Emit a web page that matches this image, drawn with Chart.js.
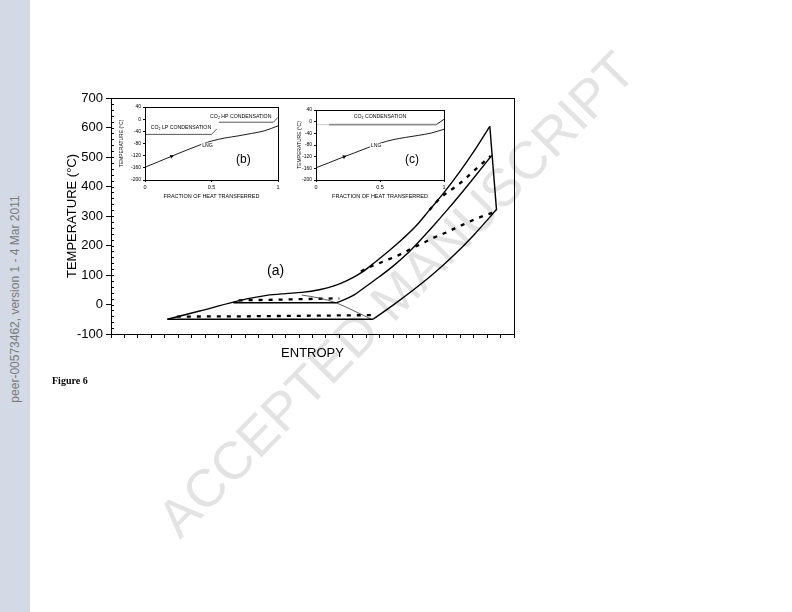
<!DOCTYPE html>
<html>
<head>
<meta charset="utf-8">
<script src="https://cdn.jsdelivr.net/npm/chart.js@4"></script>
<style>
  body { margin: 0; width: 792px; height: 612px; position: relative; overflow: hidden; background: #fff;
         font-family: "Liberation Sans", Arial, sans-serif; }
  canvas { position: absolute; }
  #side { position: absolute; left: 0; top: 0; width: 30px; height: 612px; background: #d3dae5; }
  #sideText { position: absolute; left: 15px; top: 299px; transform: translate(-50%, -50%) rotate(-90deg);
              white-space: nowrap; font-size: 12px; color: #7b7b7b; }
  #fig { position: absolute; left: 52px; top: 375px; font-family: "Liberation Serif", "Times New Roman", serif;
         font-weight: bold; font-size: 10px; }
  #mark { position: absolute; left: 396px; top: 294px; transform: translate(-50%, -50%) rotate(-45.5deg);
          white-space: nowrap; font-size: 53px; color: #e3e3e3; pointer-events: none; }
</style>
</head>
<body>
<div id="side"><div id="sideText">peer-00573462, version 1 - 4 Mar 2011</div></div>
<div id="mark">ACCEPTED MANUSCRIPT</div>
<canvas id="mainChart" width="792" height="612" style="left:0;top:0"></canvas>
<canvas id="insetB" width="180" height="107" style="left:110px;top:98px"></canvas>
<canvas id="insetC" width="175" height="107" style="left:285px;top:98px"></canvas>
<div id="fig">Figure 6</div>

<script>
// main T-s diagram, entropy in arbitrary units (0..30)
const topS = [4.2, 6.6, 9.1, 10.2, 11.6, 13, 14.2, 15.5, 16.6, 17.6, 18.7, 19.7, 20.7, 21.7, 22.7, 23.7, 24.8, 25.9, 27, 28.2];
const topT = [-50, -22, 8, 20, 31, 37, 41, 50, 63, 82, 110, 145, 182, 222, 266, 320, 380, 446, 518, 604];
const rightS = [28.2, 28.7];
const rightT = [604, 320];
const bottomS = [19.5, 21, 22.5, 24, 25.5, 27, 28.7];
const bottomT = [-50, -2, 49, 104, 166, 235, 322];
const baseS = [4.2, 19.5];
const baseT = [-50, -50];
const innerS = [9.1, 16.8];
const innerT = [6, 6];
const middleS = [16.8, 18, 19, 20, 21, 22, 23, 24, 25, 26, 27, 28.35];
const middleT = [6, 30, 62, 95, 130, 170, 217, 267, 319, 373, 429, 506];
const thinS = [14.2, 15.5, 16.8, 18.1, 19.4];
const thinT = [32, 22, 5, -22, -50];
const dashLowS = [4.9, 10, 15, 19.4];
const dashLowT = [-41, -40, -38, -36];
const dashMidS = [9.5, 13, 17];
const dashMidT = [14, 17, 21];
const dashBS = [18.6, 19.3, 19.9, 20.5, 21.1, 21.8, 22.6, 23.4, 24.1, 24.9, 25.6, 26.4, 27.2, 27.9, 28.6];
const dashBT = [112, 128, 139, 150, 161, 176, 195, 212, 228, 243, 258, 275, 291, 303, 314];
const dashCS = [23.7, 24.4, 25.1, 25.8, 26.4, 27, 27.7, 28.25];
const dashCT = [320, 356, 382, 404, 427, 453, 481, 503];

// inset (b)
const lngFracB = [0, 0.1, 0.2, 0.3, 0.4, 0.5, 0.6, 0.7, 0.8, 0.9, 1];
const lngTB = [-158, -140, -122, -104, -87, -72, -62, -55, -47, -38, -22];
const lpFrac = [0, 0.5, 0.54];
const lpT = [-50, -50, -32];
const hpFrac = [0.555, 0.965, 1];
const hpT = [-10, -10, 6];
const arrowB = [0.2, -122];

// inset (c)
const lngFracC = [0, 0.1, 0.22, 0.3, 0.4, 0.5, 0.6, 0.7, 0.8, 0.9, 1];
const lngTC = [-158, -141, -120, -107, -90, -74, -62, -54, -47, -39, -26];
const co2PaleFrac = [0, 0.1];
const co2PaleT = [-10, -10];
const co2Frac = [0.1, 0.94];
const co2T = [-10, -10];
const co2RiseFrac = [0.94, 1];
const co2RiseT = [-10, 8];
const arrowC = [0.22, -120];

const FONT = '"Liberation Sans", Arial, sans-serif';

function pts(xs, ys) {
  return xs.map((x, i) => ({ x: x, y: ys[i] }));
}

function line(xs, ys, extra) {
  return Object.assign({
    data: pts(xs, ys),
    borderColor: '#000',
    borderWidth: 1.4,
    pointRadius: 0,
    fill: false,
    tension: 0
  }, extra);
}

const smooth = { cubicInterpolationMode: 'monotone' };
const dashed = { borderDash: [4, 6], borderWidth: 2.3, borderCapStyle: 'butt' };

// box round the plot area + free text placed in data units
const framePlugin = {
  id: 'frame',
  afterDatasetsDraw(chart) {
    const a = chart.chartArea;
    const ctx = chart.ctx;
    ctx.save();
    ctx.strokeStyle = '#000';
    ctx.lineWidth = 1;
    ctx.strokeRect(Math.round(a.left) + 0.5, Math.round(a.top) + 0.5,
                   Math.round(a.right - a.left), Math.round(a.bottom - a.top));
    const notes = chart.options.plugins.frame.notes || [];
    notes.forEach(n => {
      const x = chart.scales.x.getPixelForValue(n.x);
      const y = chart.scales.y.getPixelForValue(n.y);
      ctx.font = n.size + 'px ' + FONT;
      ctx.textAlign = 'center';
      ctx.textBaseline = 'middle';
      if (n.blank) {
        const w = ctx.measureText(n.text).width;
        ctx.fillStyle = '#fff';
        ctx.fillRect(x - w / 2 - 1, y - n.size / 2, w + 2, n.size);
      }
      ctx.fillStyle = '#000';
      ctx.fillText(n.text, x, y);
    });
    const minor = chart.options.plugins.frame.minor;
    if (minor) {
      const ys = chart.scales.y;
      ctx.lineWidth = 1;
      for (let v = ys.min; v <= ys.max; v += minor) {
        const y = Math.round(ys.getPixelForValue(v)) + 0.5;
        ctx.beginPath();
        ctx.moveTo(a.left, y);
        ctx.lineTo(a.left + 3, y);
        ctx.stroke();
      }
    }
    ctx.restore();
  }
};

Chart.register(framePlugin);

new Chart(document.getElementById('mainChart'), {
  type: 'line',
  data: {
    datasets: [
      line(topS, topT, smooth),
      line(rightS, rightT),
      line(bottomS, bottomT, smooth),
      line(baseS, baseT),
      line(innerS, innerT),
      line(middleS, middleT, smooth),
      line(thinS, thinT, { borderWidth: 0.8, borderColor: '#333', cubicInterpolationMode: 'monotone' }),
      line(dashLowS, dashLowT, dashed),
      line(dashMidS, dashMidT, dashed),
      line(dashBS, dashBT, Object.assign({}, dashed, smooth)),
      line(dashCS, dashCT, Object.assign({}, dashed, smooth))
    ]
  },
  options: {
    responsive: false,
    animation: false,
    layout: { padding: { left: 61, top: 98, right: 278, bottom: 251 } },
    plugins: {
      legend: { display: false },
      tooltip: { enabled: false },
      frame: { notes: [{ text: '(a)', x: 12.25, y: 113, size: 14 }], minor: 20 }
    },
    scales: {
      x: {
        type: 'linear',
        min: 0,
        max: 30,
        afterFit: s => { s.height = 27; },
        border: { color: '#000', width: 1 },
        grid: { drawOnChartArea: false, tickLength: 4, color: '#000' },
        ticks: { stepSize: 1, autoSkip: false, callback: () => '' },
        title: { display: true, text: 'ENTROPY', color: '#000', font: { family: FONT, size: 13 },
                 padding: { top: 0, bottom: 0 } }
      },
      y: {
        min: -100,
        max: 700,
        afterFit: s => { s.width = 50; },
        border: { color: '#000', width: 1 },
        grid: { drawOnChartArea: false, tickLength: 5, color: '#000' },
        ticks: { stepSize: 100, color: '#000', padding: 3, font: { family: FONT, size: 13 } },
        title: { display: true, text: 'TEMPERATURE (°C)', color: '#000', font: { family: FONT, size: 13 },
                 padding: { top: 4, bottom: 4 } }
      }
    }
  }
});

function insetOptions(pad, yWidth, notes) {
  return {
    responsive: false,
    animation: false,
    layout: { padding: pad },
    plugins: { legend: { display: false }, tooltip: { enabled: false }, frame: { notes: notes } },
    scales: {
      x: {
        type: 'linear', min: 0, max: 1,
        afterFit: s => { s.height = 20; },
        border: { color: '#000', width: 1 },
        grid: { drawOnChartArea: false, tickLength: 2, color: '#000' },
        ticks: { stepSize: 0.5, color: '#000', padding: 2, font: { family: FONT, size: 5.5 },
                 callback: v => String(v) },
        title: { display: true, text: 'FRACTION OF HEAT TRANSFERRED', color: '#000',
                 font: { family: FONT, size: 5.5 }, padding: { top: 0, bottom: 0 } }
      },
      y: {
        min: -200, max: 40,
        afterFit: s => { s.width = yWidth; },
        border: { color: '#000', width: 1 },
        grid: { drawOnChartArea: false, tickLength: 2, color: '#000' },
        ticks: { stepSize: 40, color: '#000', padding: 2, font: { family: FONT, size: 5 } },
        title: { display: true, text: 'TEMPERATURE (°C)', color: '#000',
                 font: { family: FONT, size: 5 }, padding: { top: 0, bottom: 0 } }
      }
    }
  };
}

function arrow(p) {
  return {
    data: [{ x: p[0], y: p[1] }],
    showLine: false,
    pointStyle: 'triangle',
    pointRadius: 2.3,
    rotation: 67,
    backgroundColor: '#000',
    borderColor: '#000',
    borderWidth: 0
  };
}

new Chart(document.getElementById('insetB'), {
  type: 'line',
  data: {
    datasets: [
      line(lpFrac, lpT, { borderWidth: 0.9, borderColor: '#444' }),
      line(hpFrac, hpT, { borderWidth: 0.9, borderColor: '#444' }),
      line(lngFracB, lngTB, { borderWidth: 0.9, cubicInterpolationMode: 'monotone' }),
      arrow(arrowB)
    ]
  },
  options: insetOptions({ left: 9, top: 9, right: 12, bottom: 5 }, 26, [
    { text: 'CO₂ HP CONDENSATION', x: 0.72, y: 10, size: 5.2 },
    { text: 'CO₂ LP CONDENSATION', x: 0.27, y: -29, size: 5.2 },
    { text: 'LNG', x: 0.47, y: -86, size: 5.2, blank: true },
    { text: '(b)', x: 0.74, y: -134, size: 12 }
  ])
});

new Chart(document.getElementById('insetC'), {
  type: 'line',
  data: {
    datasets: [
      line(co2PaleFrac, co2PaleT, { borderWidth: 1.2, borderColor: '#cfcfcf' }),
      line(co2Frac, co2T, { borderWidth: 1.8, borderColor: '#8f8f8f' }),
      line(co2RiseFrac, co2RiseT, { borderWidth: 0.9 }),
      line(lngFracC, lngTC, { borderWidth: 0.9, cubicInterpolationMode: 'monotone' }),
      arrow(arrowC)
    ]
  },
  options: insetOptions({ left: 12, top: 12, right: 16, bottom: 5 }, 19, [
    { text: 'CO₂ CONDENSATION', x: 0.5, y: 16, size: 5.2 },
    { text: 'LNG', x: 0.47, y: -82, size: 5.2, blank: true },
    { text: '(c)', x: 0.75, y: -132, size: 12 }
  ])
});
</script>
</body>
</html>
